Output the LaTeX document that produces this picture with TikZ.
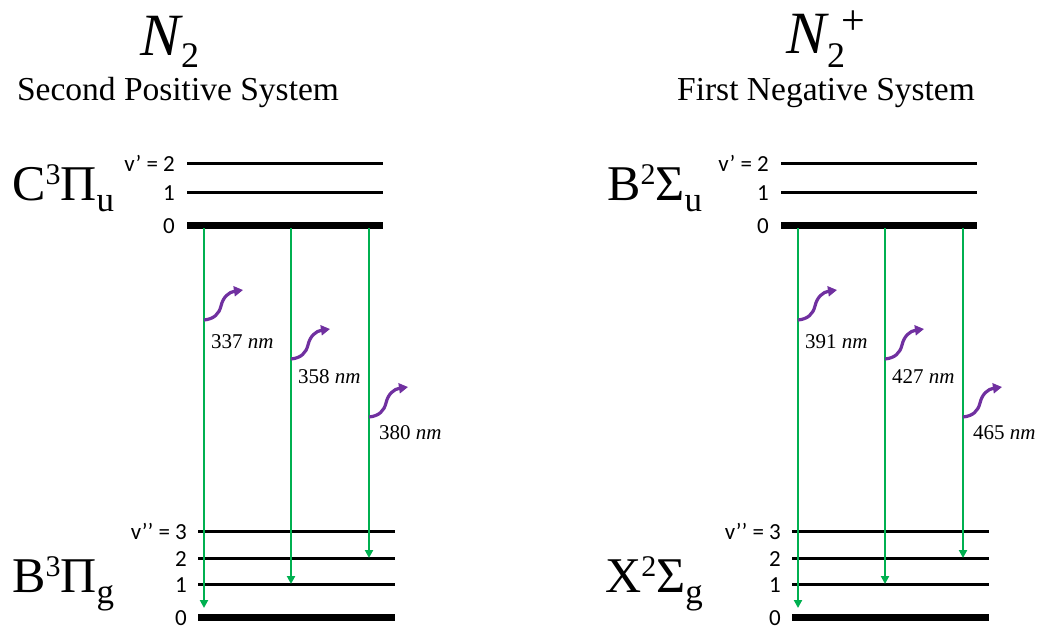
\documentclass[tikz,border=0pt]{standalone}
\usepackage{fontspec}
\setmainfont{Liberation Serif}
\newfontfamily\calib{Carlito}
\usetikzlibrary{arrows.meta,calc}
\definecolor{trgreen}{RGB}{0,176,80}
\definecolor{phpurple}{RGB}{112,48,160}
\newcommand{\supsc}[1]{\raisebox{16pt}{\fontsize{30}{30}\selectfont #1}}
\newcommand{\subsc}[1]{\raisebox{-11pt}{\fontsize{35}{35}\selectfont #1}}
\begin{document}
\begin{tikzpicture}[x=1pt,y=-1pt,
  level/.style={line width=3pt},
  ground/.style={line width=7pt},
  vlab/.style={font=\calib\fontsize{23}{23}\selectfont, anchor=base east, inner sep=0pt},
  trans/.style={draw=trgreen, line width=2.4pt, -{Triangle[length=8pt,width=8pt]}},
  wave/.style={draw=phpurple, line width=3.2pt, -{Triangle[length=9pt,width=10pt]}},
  wl/.style={font=\fontsize{21}{21}\selectfont, anchor=base west, inner sep=0pt},
  state/.style={font=\fontsize{50}{50}\selectfont, anchor=base west, inner sep=0pt},
  titleN/.style={font=\fontsize{60}{60}\selectfont\itshape, anchor=base west, inner sep=0pt},
  titlesub/.style={font=\fontsize{36}{36}\selectfont, anchor=base west, inner sep=0pt},
  sys/.style={font=\fontsize{33.5}{33.5}\selectfont, anchor=base, inner sep=0pt}]
\useasboundingbox (0,0) rectangle (1041,630);

\foreach \p/\dx in {L/0,R/594}{
  \begin{scope}[xshift=\dx pt]
    % levels
    \coordinate (\p u2a) at (187,163); \coordinate (\p u2b) at (383,163);
    \coordinate (\p u1a) at (187,192); \coordinate (\p u1b) at (383,192);
    \coordinate (\p u0a) at (187,225); \coordinate (\p u0b) at (383,225);
    \coordinate (\p l3a) at (198,531); \coordinate (\p l3b) at (395,531);
    \coordinate (\p l2a) at (198,558); \coordinate (\p l2b) at (395,558);
    \coordinate (\p l1a) at (198,584); \coordinate (\p l1b) at (395,584);
    \coordinate (\p l0a) at (198,617); \coordinate (\p l0b) at (395,617);
    \draw[level] (\p u2a) -- (\p u2b);
    \draw[level] (\p u1a) -- (\p u1b);
    \draw[ground] (\p u0a) -- (\p u0b);
    \draw[level] (\p l3a) -- (\p l3b);
    \draw[level] (\p l2a) -- (\p l2b);
    \draw[level] (\p l1a) -- (\p l1b);
    \draw[ground] (\p l0a) -- (\p l0b);
    % vibrational labels
    \node[vlab] (\p vu2) at (175,171) {v’ = 2};
    \node[vlab] (\p vu1) at (175,200) {1};
    \node[vlab] (\p vu0) at (175,233) {0};
    \node[vlab] (\p vl3) at (187,539) {v’’ = 3};
    \node[vlab] (\p vl2) at (187,566) {2};
    \node[vlab] (\p vl1) at (187,592) {1};
    \node[vlab] (\p vl0) at (187,625) {0};
    % transitions
    \coordinate (\p t1s) at (204,228); \coordinate (\p t1e) at (204,608);
    \coordinate (\p t2s) at (291,228); \coordinate (\p t2e) at (291,584);
    \coordinate (\p t3s) at (369,228); \coordinate (\p t3e) at (369,558);
    \draw[trans] (\p t1s) -- (\p t1e);
    \draw[trans] (\p t2s) -- (\p t2e);
    \draw[trans] (\p t3s) -- (\p t3e);
    % photons
    \foreach \i/\px/\py in {1/204/320, 2/291/359, 3/369/417}{
      \coordinate (\p w\i s) at (\px,\py);
      \coordinate (\p w\i e) at (\px+39,\py-30);
      \draw[wave] (\p w\i s) .. controls ($(\p w\i s)+(10,-1)$) and ($(\p w\i s)+(15,-6)$) .. ($(\p w\i s)+(17,-14)$)
                  .. controls ($(\p w\i s)+(19,-23)$) and ($(\p w\i s)+(25,-28)$) .. (\p w\i e);
    }
  \end{scope}
}

% wavelength labels
\node[wl] (lam1) at (211,348) {337 \textit{nm}};
\node[wl] (lam2) at (298,383) {358 \textit{nm}};
\node[wl] (lam3) at (379,439) {380 \textit{nm}};
\node[wl] (lam4) at (805,348) {391 \textit{nm}};
\node[wl] (lam5) at (892,383) {427 \textit{nm}};
\node[wl] (lam6) at (973,439) {465 \textit{nm}};

% electronic states
\node[state] (Cst) at (12,200) {C\supsc{3}Π\subsc{u}};
\node[state] (Bst) at (12,592) {B\supsc{3}Π\subsc{g}};
\node[state] (B2st) at (607,200) {B\supsc{2}Σ\subsc{u}};
\node[state] (Xst) at (605,592) {X\supsc{2}Σ\subsc{g}};

% titles
\node[titleN] (N1) at (140,55) {N};
\node[titlesub] (N1s) at (181,67) {2};
\node[sys] (sys1) at (178,100) {Second Positive System};
\node[titleN] (N2) at (786,53) {N};
\node[titlesub] (N2s) at (827,67) {2};
\node[font=\fontsize{42}{42}\selectfont, inner sep=0pt] (N2p) at (853,23) {+};
\node[sys] (sys2) at (826,100) {First Negative System};
\end{tikzpicture}
\end{document}
